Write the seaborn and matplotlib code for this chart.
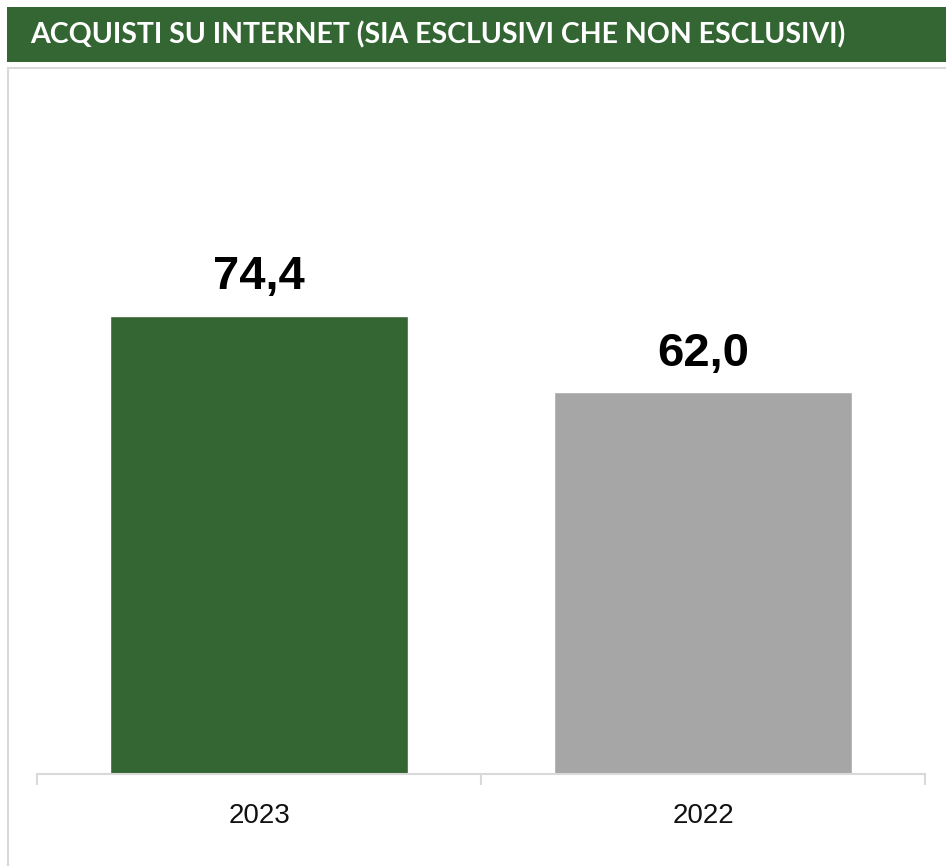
import matplotlib
matplotlib.use("Agg")
import matplotlib.pyplot as plt
import seaborn as sns
import pandas as pd
from matplotlib.patches import Rectangle

categories = ["2023", "2022"]
values = [74.4, 62.0]
labels = ["74,4", "62,0"]
colors = ["#336633", "#A6A6A6"]
title = "ACQUISTI SU INTERNET (SIA ESCLUSIVI CHE NON ESCLUSIVI)"

sns.set_theme(style="white")
plt.rcParams['font.family'] = ['Liberation Sans', 'DejaVu Sans']

W, H = 946, 866
fig = plt.figure(figsize=(W / 100, H / 100), dpi=100)

# title banner
fig.patches.append(Rectangle((7 / W, 1 - 62 / H), 1 - 7 / W, 55 / H, transform=fig.transFigure,
                             facecolor="#336633", edgecolor="none", zorder=0))
fig.text(30 / W, 1 - 35 / H, title, color="white", fontsize=20.5, fontweight="bold",
         family=["Lato", "DejaVu Sans"], va="center", ha="left")
# panel border
fig.patches.append(Rectangle((8 / W, -0.01), 1.0, 1 - 68 / H + 0.01, transform=fig.transFigure,
                             facecolor="none", edgecolor="#D9D9D9", linewidth=1.5, zorder=0))

ax = fig.add_axes([37 / W, 1 - 774 / H, (925 - 37) / W, (774 - 100) / H])
df = pd.DataFrame({"cat": categories, "val": values})
sns.barplot(data=df, x="cat", y="val", hue="cat", palette=colors, legend=False,
            width=0.669, saturation=1, ax=ax)
ax.set_xlim(-0.5, 1.5)
ax.set_ylim(0, 109.5)
for i, (v, lab) in enumerate(zip(values, labels)):
    ax.annotate(lab, (i, v), xytext=(0, 12), textcoords="offset points", ha="center",
                va="bottom", fontsize=34, fontweight="bold", color="black")

for s in ["top", "right", "left"]:
    ax.spines[s].set_visible(False)
ax.spines["bottom"].set_color("#D9D9D9")
ax.spines["bottom"].set_linewidth(1.5)
ax.set_yticks([])
ax.set_xlabel("")
ax.set_ylabel("")
ax.set_xticks([0, 1])
ax.set_xticklabels(categories, fontsize=20, color="#111111")
ax.tick_params(axis="x", which="major", length=0, pad=21)
ax.set_xticks([-0.5, 0.5, 1.5], minor=True)
ax.tick_params(axis="x", which="minor", length=8, width=1.5, color="#D9D9D9", direction="out")
ax.tick_params(axis="x", which="minor", bottom=True)

fig.savefig("out.png", dpi=100)
